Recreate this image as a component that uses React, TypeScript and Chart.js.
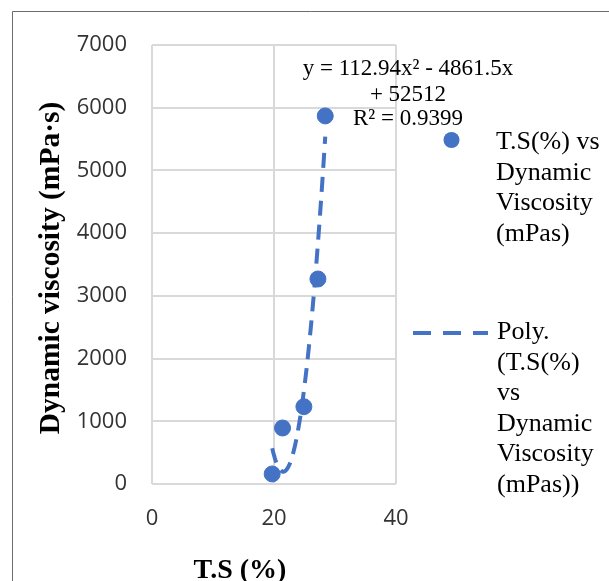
import React, { useEffect, useRef } from "react";
import { Chart, registerables } from "chart.js";

Chart.register(...registerables);

// Measured data: total solids (%) vs dynamic viscosity (mPa·s)
const tsPercent = [19.7, 21.4, 24.9, 27.2, 28.4];
const viscosity = [160, 893, 1233, 3269, 5869];

// Excel polynomial trendline (order 2) as printed on the chart: a·x² + b·x + c
const polyCoefficients = [112.94, -4861.5, 52512];
const equationLines = ["y = 112.94x\u00B2 - 4861.5x", "+ 52512", "R\u00B2 = 0.9399"];

const xTickValues = [0, 20, 40];
const yTickValues = [0, 1000, 2000, 3000, 4000, 5000, 6000, 7000];

const seriesLegendLines = ["T.S(%) vs", "Dynamic", "Viscosity", "(mPas)"];
const trendLegendLines = ["Poly.", "(T.S(%)", "vs", "Dynamic", "Viscosity", "(mPas))"];

const xTitle = "T.S (%)";
const yTitle = "Dynamic viscosity (mPa\u00B7s)";

const BLUE = "#4472C4";

function trendPoints() {
  const lo = Math.min(...tsPercent);
  const hi = Math.max(...tsPercent);
  const n = 80;
  const pts: { x: number; y: number }[] = [];
  for (let i = 0; i <= n; i++) {
    const x = lo + ((hi - lo) * i) / n;
    const y = polyCoefficients[0] * x * x + polyCoefficients[1] * x + polyCoefficients[2];
    pts.push({ x, y });
  }
  return pts;
}

const decorPlugin = {
  id: "decor",
  afterDraw(chart: any) {
    const ctx = chart.ctx as CanvasRenderingContext2D;
    ctx.save();
    // outer frame (top and left edges visible)
    ctx.strokeStyle = "#6b6b6b";
    ctx.lineWidth = 1;
    ctx.beginPath();
    ctx.moveTo(12.5, 581);
    ctx.lineTo(12.5, 11.5);
    ctx.lineTo(609, 11.5);
    ctx.stroke();

    // equation label
    ctx.fillStyle = "#000";
    ctx.font = "23px 'Liberation Serif', 'Times New Roman', serif";
    ctx.textAlign = "center";
    ctx.textBaseline = "alphabetic";
    const eqY = [75, 100.5, 125];
    equationLines.forEach((t, i) => ctx.fillText(t, 408, eqY[i]));

    // axis titles
    ctx.font = "bold 28px 'Liberation Serif', 'Times New Roman', serif";
    ctx.fillText(xTitle, 240, 578);
    ctx.save();
    ctx.translate(58.5, 268);
    ctx.rotate(-Math.PI / 2);
    ctx.font = "bold 29.5px 'Liberation Serif', 'Times New Roman', serif";
    ctx.fillText(yTitle, 0, 0);
    ctx.restore();

    // legend
    ctx.fillStyle = BLUE;
    ctx.beginPath();
    ctx.arc(451.5, 140, 8, 0, Math.PI * 2);
    ctx.fill();
    ctx.strokeStyle = BLUE;
    ctx.lineWidth = 4;
    ctx.setLineDash([18, 12]);
    ctx.beginPath();
    ctx.moveTo(413, 333);
    ctx.lineTo(488, 333);
    ctx.stroke();
    ctx.setLineDash([]);

    ctx.fillStyle = "#000";
    ctx.font = "26px 'Liberation Serif', 'Times New Roman', serif";
    ctx.textAlign = "left";
    seriesLegendLines.forEach((t, i) => ctx.fillText(t, 496, 149 + i * 30.6));
    trendLegendLines.forEach((t, i) => ctx.fillText(t, 497, 339 + i * 30.6));
    ctx.restore();
  },
};

export default function App() {
  const ref = useRef<HTMLCanvasElement | null>(null);
  useEffect(() => {
    if (!ref.current) return;
    const chart = new Chart(ref.current, {
      type: "scatter",
      data: {
        datasets: [
          {
            label: "T.S(%) vs Dynamic Viscosity (mPas)",
            data: tsPercent.map((x, i) => ({ x, y: viscosity[i] })),
            backgroundColor: BLUE,
            borderColor: BLUE,
            pointRadius: 8,
            pointHoverRadius: 8,
          },
          {
            label: "Poly. (T.S(%) vs Dynamic Viscosity (mPas))",
            data: trendPoints(),
            showLine: true,
            borderColor: BLUE,
            borderWidth: 4,
            borderDash: [15, 9],
            pointRadius: 0,
            tension: 0,
          } as any,
        ],
      },
      options: {
        animation: false,
        responsive: false,
        devicePixelRatio: 1,
        layout: { padding: { left: 0, top: 45, right: 213, bottom: 0 } },
        plugins: { legend: { display: false }, tooltip: { enabled: false } },
        scales: {
          x: {
            type: "linear",
            min: 0,
            max: 40,
            afterBuildTicks: (s: any) => {
              s.ticks = xTickValues.map((v) => ({ value: v }));
            },
            afterFit: (s: any) => {
              s.height = 97;
            },
            ticks: {
              padding: 22,
              color: "#333333",
              font: { family: "'Open Sans', sans-serif", size: 22 },
              callback: (v: any) => String(v),
            },
            grid: { color: "#d9d9d9", lineWidth: 2, drawTicks: false },
            border: { display: false },
          },
          y: {
            type: "linear",
            min: 0,
            max: 7000,
            afterBuildTicks: (s: any) => {
              s.ticks = yTickValues.map((v) => ({ value: v }));
            },
            afterFit: (s: any) => {
              s.width = 152;
            },
            ticks: {
              padding: 25,
              color: "#333333",
              font: { family: "'Open Sans', sans-serif", size: 22 },
              callback: (v: any) => String(v),
            },
            grid: { color: "#d9d9d9", lineWidth: 2, drawTicks: false },
            border: { display: false },
          },
        },
      },
      plugins: [decorPlugin],
    } as any);
    return () => chart.destroy();
  }, []);
  return (
    <div style={{ position: "fixed", left: 0, top: 0, width: 609, height: 581, background: "#fff" }}>
      <canvas ref={ref} width={609} height={581} style={{ display: "block" }} />
    </div>
  );
}
